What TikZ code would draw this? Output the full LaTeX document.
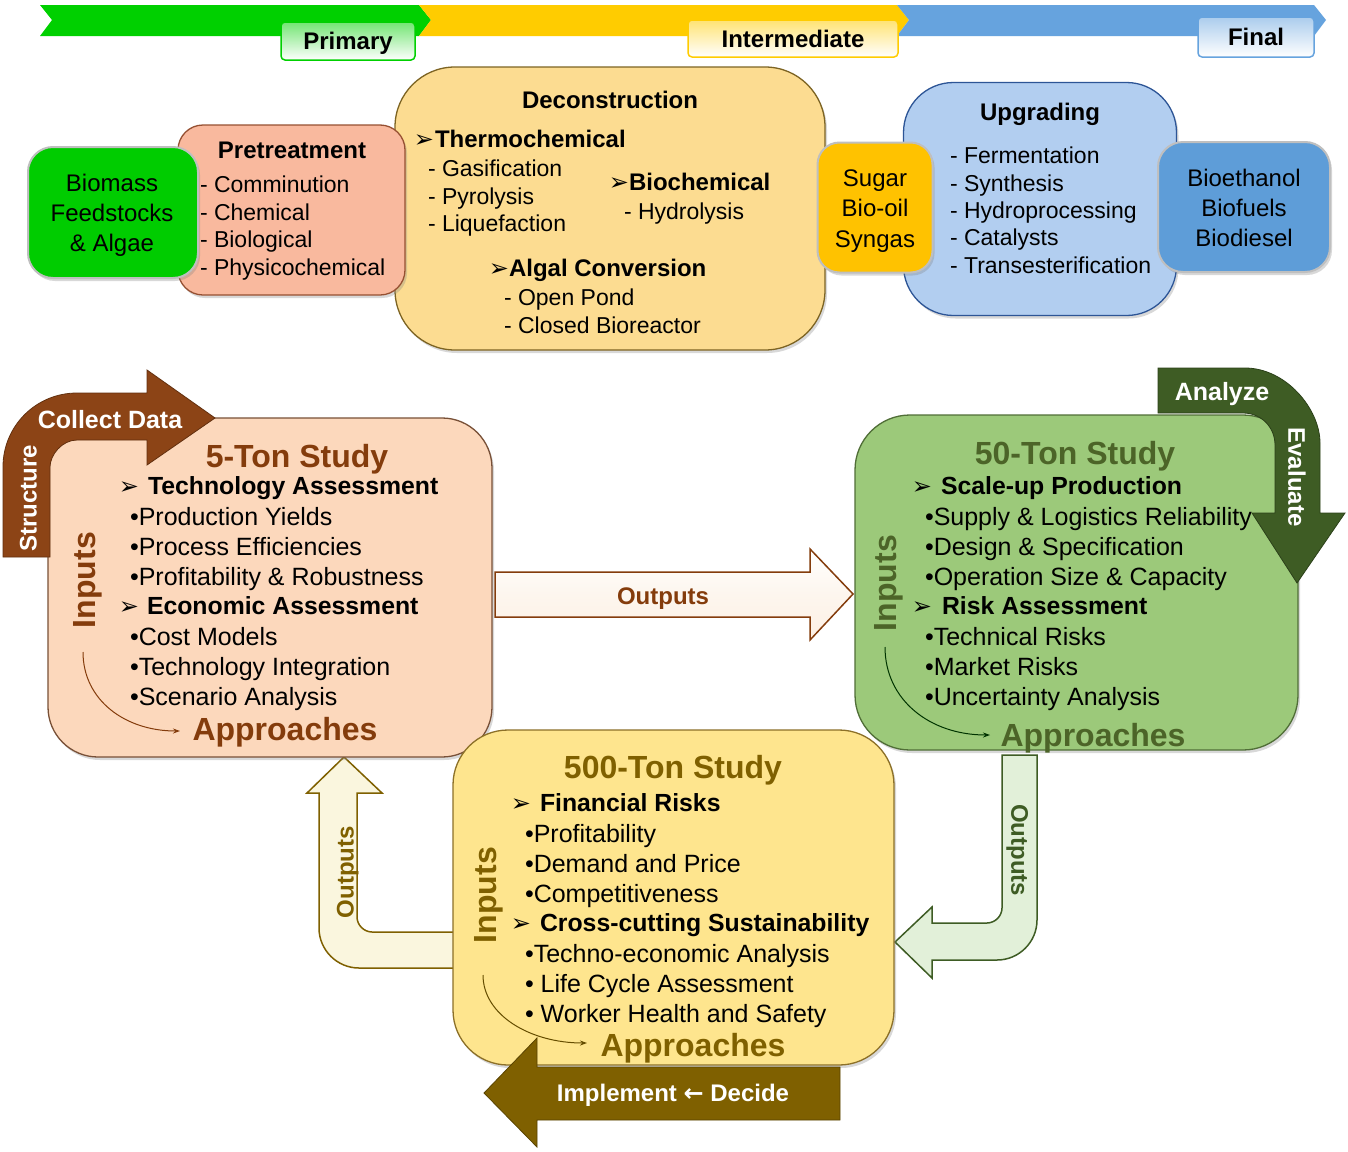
\documentclass[tikz,border=0pt]{standalone}
\usepackage{fontspec}
\setmainfont{Liberation Sans}
\newfontfamily\djv{DejaVu Sans}
\usetikzlibrary{arrows.meta,shadows}
\definecolor{bgGreen}{RGB}{0,208,0}
\definecolor{bgYellow}{RGB}{255,204,0}
\definecolor{bgBlue}{RGB}{102,163,222}
\definecolor{cBio}{RGB}{0,204,0}
\definecolor{cPre}{RGB}{249,185,158}
\definecolor{cPreD}{RGB}{150,80,50}
\definecolor{cDec}{RGB}{252,220,145}
\definecolor{cDecD}{RGB}{125,100,35}
\definecolor{cSug}{RGB}{255,194,0}
\definecolor{cUpg}{RGB}{178,206,240}
\definecolor{cUpgD}{RGB}{45,85,150}
\definecolor{cEth}{RGB}{94,157,216}
\definecolor{cFive}{RGB}{252,216,188}
\definecolor{cFiveD}{RGB}{120,80,55}
\definecolor{cFiveT}{RGB}{132,60,12}
\definecolor{cBrownA}{RGB}{140,68,22}
\definecolor{cBrownL}{RGB}{170,95,45}
\definecolor{cFifty}{RGB}{156,201,122}
\definecolor{cFiftyD}{RGB}{80,110,55}
\definecolor{cFiftyT}{RGB}{76,100,40}
\definecolor{cGreenA}{RGB}{62,92,36}
\definecolor{cFH}{RGB}{254,229,142}
\definecolor{cFHD}{RGB}{140,112,40}
\definecolor{cOlive}{RGB}{127,96,0}
\definecolor{cOliveL}{RGB}{165,128,22}
\definecolor{cOutM}{RGB}{253,246,238}
\definecolor{cOutL}{RGB}{250,246,222}
\definecolor{cOutR}{RGB}{226,240,217}
\newcommand{\arrw}{{\normalfont\djv\fontsize{24}{24}\selectfont ➢}}
\begin{document}
\begin{tikzpicture}[x=1pt,y=-1pt,
  every node/.style={inner sep=0pt,outer sep=0pt},
  bx/.style={draw=#1, line width=1.3pt, drop shadow={shadow xshift=2pt,shadow yshift=-3pt,opacity=0.3}},
  lab/.style={draw=#1, line width=1.5pt, rounded corners=4pt, top color=#1!55, middle color=white, bottom color=white},
  tit/.style={font=\fontsize{32}{32}\selectfont\bfseries, text height=23pt, text depth=0pt},
  hd/.style={font=\fontsize{24}{24}\selectfont\bfseries, text height=17.3pt, text depth=0pt},
  sub/.style={font=\fontsize{24.8}{25}\selectfont\bfseries, anchor=west, text height=17.8pt, text depth=0pt},
  itm/.style={font=\fontsize{25}{25}\selectfont, anchor=west, text height=18pt, text depth=0pt},
  tpi/.style={font=\fontsize{23}{23}\selectfont, anchor=west, text height=16.5pt, text depth=0pt},
  tps/.style={font=\fontsize{24}{24}\selectfont\bfseries, anchor=west, text height=17.3pt, text depth=0pt},
  ctr/.style={font=\fontsize{24}{24}\selectfont, text height=17.3pt, text depth=0pt},
  arw/.style={text height=16pt, text depth=0pt},
  wht/.style={font=\fontsize{24}{24}\selectfont\bfseries, text=white, text height=17.3pt, text depth=0pt},
  curv/.style={line width=1pt, -{Stealth[length=7pt,width=5pt]}}
]
\useasboundingbox (0,0) rectangle (1348,1151);
\fill[white] (0,0) rectangle (1348,1151);

% ---------- banner ----------
\fill[bgGreen] (40,5) -- (419,5) -- (431,20) -- (419,36) -- (40,36) -- (52,20) -- cycle;
\fill[bgYellow] (419,5) -- (897,5) -- (909,20) -- (897,36) -- (419,36) -- (431,20) -- cycle;
\fill[bgBlue] (897,5) -- (1314,5) -- (1326,20) -- (1314,36) -- (897,36) -- (909,20) -- cycle;
\node[lab=bgGreen, minimum width=134pt, minimum height=38pt] (lp) at (348,41) {};
\node[hd] (lpt) at (348,41) {Primary};
\node[lab=bgYellow, minimum width=210pt, minimum height=37pt] (li) at (793,38.5) {};
\node[hd] (lit) at (793,38.5) {Intermediate};
\node[lab=bgBlue, minimum width=116pt, minimum height=40pt] (lf) at (1256,37) {};
\node[hd] (lft) at (1256,37) {Final};

% ---------- top process row ----------
\node[bx=cDecD, fill=cDec, rounded corners=60pt, minimum width=430pt, minimum height=283pt] (dec) at (610,208.5) {};
\node[bx=cUpgD, fill=cUpg, rounded corners=50pt, minimum width=273pt, minimum height=233pt] (upg) at (1040,199) {};
\node[bx=cPreD, fill=cPre, rounded corners=25pt, minimum width=227pt, minimum height=170pt] (pre) at (291.5,210) {};
\node[bx=black!25, line width=2pt, fill=cBio, rounded corners=25pt, minimum width=170pt, minimum height=131pt] (bio) at (113,212.5) {};
\node[bx=black!25, line width=2pt, fill=cSug, rounded corners=22pt, minimum width=115pt, minimum height=130pt] (sug) at (875,207.5) {};
\node[bx=black!25, line width=2pt, fill=cEth, rounded corners=25pt, minimum width=172pt, minimum height=130pt] (eth) at (1244,207) {};

\node[ctr] (bio1) at (112,183) {Biomass};
\node[ctr] (bio2) at (112,213) {Feedstocks};
\node[ctr] (bio3) at (112,243) {\& Algae};

\node[hd] (preh) at (292,150) {Pretreatment};
\node[tpi] (pre1) at (200,184) {- Comminution};
\node[tpi] (pre2) at (200,212) {- Chemical};
\node[tpi] (pre3) at (200,239) {- Biological};
\node[tpi] (pre4) at (200,267) {- Physicochemical};

\node[hd] (dech) at (610,100) {Deconstruction};
\node[arw] (deca1) at (424,139) {\arrw};
\node[tps] (decs1) at (435,139) {Thermochemical};
\node[tpi] (dec1) at (428,168) {- Gasification};
\node[tpi] (dec2) at (428,196) {- Pyrolysis};
\node[tpi] (dec3) at (428,223) {- Liquefaction};
\node[arw] (deca2) at (619,182) {\arrw};
\node[tps] (decs2) at (629,182) {Biochemical};
\node[tpi] (dec4) at (624,211) {- Hydrolysis};
\node[arw] (deca3) at (499,268) {\arrw};
\node[tps] (decs3) at (509,268) {Algal Conversion};
\node[tpi] (dec5) at (504,297) {- Open Pond};
\node[tpi] (dec6) at (504,325) {- Closed Bioreactor};

\node[ctr] (sug1) at (875,178) {Sugar};
\node[ctr] (sug2) at (875,208) {Bio-oil};
\node[ctr] (sug3) at (875,239) {Syngas};

\node[hd] (upgh) at (1040,112) {Upgrading};
\node[tpi] (upg1) at (950,155) {- Fermentation};
\node[tpi] (upg2) at (950,183) {- Synthesis};
\node[tpi] (upg3) at (950,210) {- Hydroprocessing};
\node[tpi] (upg4) at (950,237) {- Catalysts};
\node[tpi] (upg5) at (950,265) {- Transesterification};

\node[ctr] (eth1) at (1244,178) {Bioethanol};
\node[ctr] (eth2) at (1244,208) {Biofuels};
\node[ctr] (eth3) at (1244,238) {Biodiesel};

% ---------- block arrows between studies ----------
\draw[top color=white, bottom color=cOutM!80!cFive, middle color=cOutM, draw=cFiveT, line width=1.5pt] (495,572) -- (810,572) -- (810,549) -- (853,594) -- (810,640) -- (810,617) -- (495,617) -- cycle;
\node[hd, text=cFiveT] (outm) at (663,596) {Outputs};

\draw[fill=cOutL, draw=cOlive, line width=1.5pt] (455,968) -- (359,968) .. controls (337,968) and (319,950) .. (319,928) -- (319,793) -- (307,793) -- (344,757) -- (382,793) -- (357,793) -- (357,917) .. controls (357,925) and (364,932) .. (372,932) -- (455,932) -- cycle;
\node[hd, text=cOlive, rotate=90] (outl) at (345,872) {Outputs};

\draw[fill=cOutR, draw=cGreenA, line width=1.5pt] (1002,755) -- (1037,755) -- (1037,920) .. controls (1037,942) and (1019,960) .. (997,960) -- (932,960) -- (932,978) -- (895,942) -- (932,907) -- (932,923) -- (987,923) .. controls (995,923) and (1002,916) .. (1002,908) -- cycle;
\node[hd, text=cGreenA, rotate=-90] (outr) at (1020,850) {Outputs};

% ---------- 5-ton study ----------
\node[bx=cFiveD, fill=cFive, rounded corners=50pt, minimum width=444pt, minimum height=339pt] (b5) at (270,587.5) {};
\fill[cBrownA, draw=cBrownA!70!black, line width=0.8pt] (3,557) -- (3,467) .. controls (3,426) and (36,393) .. (77,393) -- (147,393) -- (147,370) -- (215,418) -- (147,465) -- (147,440) -- (77,440) .. controls (62,440) and (50,455) .. (50,467) -- (50,557) -- cycle;
\node[wht, font=\fontsize{25}{25}\selectfont\bfseries] (cd) at (110,420) {Collect Data};
\node[wht, rotate=90] (st) at (28,498) {Structure};
\node[tit, text=cFiveT] (t5) at (297,456) {5-Ton Study};
\node[arw] (t5a1) at (129,486) {\arrw};
\node[sub] (t5s1) at (148,486) {Technology Assessment};
\node[itm] (t5i1) at (130,516) {•Production Yields};
\node[itm] (t5i2) at (130,546) {•Process Efficiencies};
\node[itm] (t5i3) at (130,576) {•Profitability \& Robustness};
\node[arw] (t5a2) at (129,606) {\arrw};
\node[sub] (t5s2) at (147,606) {Economic Assessment};
\node[itm] (t5i4) at (130,636) {•Cost Models};
\node[itm] (t5i5) at (130,666) {•Technology Integration};
\node[itm] (t5i6) at (130,696) {•Scenario Analysis};
\node[tit, text=cFiveT] (t5ap) at (285,729) {Approaches};
\node[tit, text=cFiveT, rotate=90] (t5in) at (84,580) {Inputs};
\coordinate (c5s) at (83,652);
\coordinate (c5e) at (180,731);
\draw[curv, cFiveT] (c5s) .. controls (83,700) and (125,731) .. (c5e);

% ---------- 50-ton study ----------
\node[bx=cFiftyD, fill=cFifty, rounded corners=55pt, minimum width=443pt, minimum height=335pt] (b50) at (1076.5,582.5) {};
\node[tit, text=cFiftyT] (t50) at (1075,453) {50-Ton Study};
\node[arw] (t50a1) at (922,486) {\arrw};
\node[sub] (t50s1) at (941,486) {Scale-up Production};
\node[itm] (t50i1) at (925,516) {•Supply \& Logistics Reliability};
\node[itm] (t50i2) at (925,546) {•Design \& Specification};
\node[itm] (t50i3) at (925,576) {•Operation Size \& Capacity};
\node[arw] (t50a2) at (922,606) {\arrw};
\node[sub] (t50s2) at (942,606) {Risk Assessment};
\node[itm] (t50i4) at (925,636) {•Technical Risks};
\node[itm] (t50i5) at (925,666) {•Market Risks};
\node[itm] (t50i6) at (925,696) {•Uncertainty Analysis};
\node[tit, text=cFiftyT] (t50ap) at (1093,735) {Approaches};
\node[tit, text=cFiftyT, rotate=90] (t50in) at (885,583) {Inputs};
\coordinate (c50s) at (885,647);
\coordinate (c50e) at (990,735);
\draw[curv, black!80!green] (c50s) .. controls (885,700) and (930,735) .. (c50e);
\fill[cGreenA, draw=cGreenA!70!black, line width=0.8pt] (1158,368) -- (1245,368) .. controls (1286,368) and (1320,409) .. (1320,443) -- (1320,513) -- (1345,513) -- (1297,583) -- (1252,513) -- (1275,513) -- (1275,445) .. controls (1275,427) and (1261,413) .. (1243,413) -- (1158,413) -- cycle;
\node[wht, font=\fontsize{25}{25}\selectfont\bfseries] (an) at (1222,392) {Analyze};
\node[wht, rotate=-90] (ev) at (1297,477) {Evaluate};

% ---------- 500-ton study ----------
\node[bx=cFHD, fill=cFH, rounded corners=55pt, minimum width=441pt, minimum height=335pt] (b500) at (673.5,897.5) {};
\node[tit, text=cOlive] (t500) at (673,767) {500-Ton Study};
\node[arw] (t500a1) at (521,803) {\arrw};
\node[sub] (t500s1) at (540,803) {Financial Risks};
\node[itm] (t500i1) at (525,833) {•Profitability};
\node[itm] (t500i2) at (525,863) {•Demand and Price};
\node[itm] (t500i3) at (525,893) {•Competitiveness};
\node[arw] (t500a2) at (521,923) {\arrw};
\node[sub] (t500s2) at (540,923) {Cross-cutting Sustainability};
\node[itm] (t500i4) at (525,953) {•Techno-economic Analysis};
\node[itm] (t500i5) at (525,983) {• Life Cycle Assessment};
\node[itm] (t500i6) at (525,1013) {• Worker Health and Safety};
\node[tit, text=cOlive] (t500ap) at (693,1045) {Approaches};
\node[tit, text=cOlive, rotate=90] (t500in) at (485,895) {Inputs};
\coordinate (c500s) at (483,975);
\coordinate (c500e) at (587,1043);
\draw[curv, cOlive!80!black] (c500s) .. controls (483,1015) and (530,1043) .. (c500e);
\path[draw=cOlive!70!black, line width=0.8pt, top color=cOlive, middle color=cOliveL, bottom color=cOlive] (840,1067) -- (537,1067) -- (537,1038) -- (484,1093) -- (537,1147) -- (537,1120) -- (840,1120) -- cycle;
\node[wht] (imp) at (673,1093) {Implement {\djv ←} Decide};
\end{tikzpicture}
\end{document}
